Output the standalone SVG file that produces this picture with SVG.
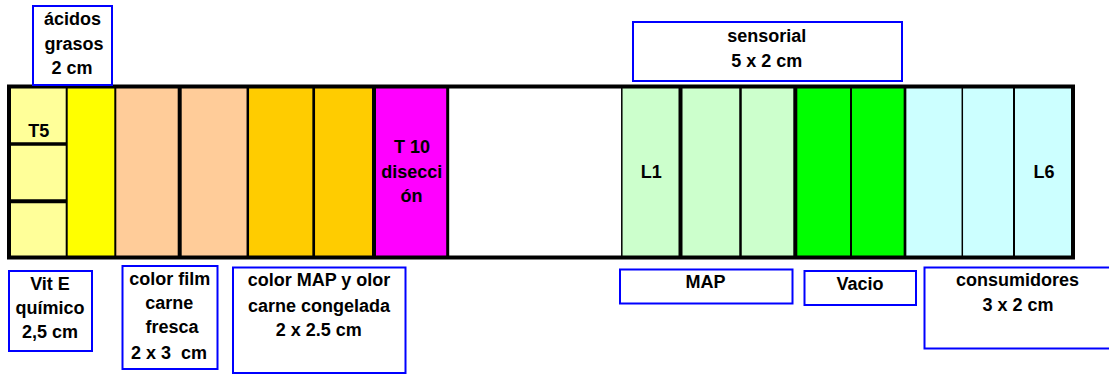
<svg xmlns="http://www.w3.org/2000/svg" width="1109" height="374" viewBox="0 0 1109 374">
<style>
text{font-family:"Liberation Sans",Arial,sans-serif;font-weight:bold;font-size:18px;fill:#000;text-anchor:middle}
.lbl{fill:#fff;stroke:#0000ff;stroke-width:2}
.div{stroke:#000}
</style>
<rect width="1109" height="374" fill="#fff"/>
<g id="bar">
<rect x="9" y="86" width="58" height="172" fill="#ffff99"/>
<rect x="67" y="86" width="48" height="172" fill="#ffff00"/>
<rect x="115" y="86" width="133" height="172" fill="#ffcc99"/>
<rect x="248" y="86" width="126" height="172" fill="#ffcc00"/>
<rect x="374" y="86" width="74" height="172" fill="#ff00ff"/>
<rect x="448" y="86" width="174" height="172" fill="#ffffff"/>
<rect x="622" y="86" width="173" height="172" fill="#ccffcc"/>
<rect x="795" y="86" width="110" height="172" fill="#00ff00"/>
<rect x="905" y="86" width="168" height="172" fill="#ccffff"/>
<g class="div">
<line x1="66.7" y1="86" x2="66.7" y2="258" stroke-width="2"/>
<line x1="115.3" y1="86" x2="115.3" y2="258" stroke-width="2"/>
<line x1="179.7" y1="86" x2="179.7" y2="258" stroke-width="4"/>
<line x1="247.8" y1="86" x2="247.8" y2="258" stroke-width="2.5"/>
<line x1="313.7" y1="86" x2="313.7" y2="258" stroke-width="2.7"/>
<line x1="374" y1="86" x2="374" y2="258" stroke-width="4"/>
<line x1="447.7" y1="86" x2="447.7" y2="258" stroke-width="3"/>
<line x1="621.8" y1="86" x2="621.8" y2="258" stroke-width="1.5"/>
<line x1="680.5" y1="86" x2="680.5" y2="258" stroke-width="4"/>
<line x1="740.5" y1="86" x2="740.5" y2="258" stroke-width="2.5"/>
<line x1="795.3" y1="86" x2="795.3" y2="258" stroke-width="4"/>
<line x1="851" y1="86" x2="851" y2="258" stroke-width="2"/>
<line x1="905" y1="86" x2="905" y2="258" stroke-width="2.7"/>
<line x1="962.3" y1="86" x2="962.3" y2="258" stroke-width="1.5"/>
<line x1="1014" y1="86" x2="1014" y2="258" stroke-width="2"/>
<line x1="9" y1="144" x2="66.7" y2="144" stroke-width="3.3"/>
<line x1="9" y1="201.3" x2="66.7" y2="201.3" stroke-width="4"/>
</g>
<rect x="9" y="86.5" width="1064" height="171" fill="none" stroke="#000" stroke-width="4"/>
</g>
<g id="cell-T5"><text x="38.8" y="136.7">T5</text></g>
<g id="cell-T10"><text x="412" y="153.3">T 10</text><text x="411.7" y="178.3">disecci</text><text x="411.5" y="202.3">ón</text></g>
<g id="cell-L1"><text x="651.3" y="178.3">L1</text></g>
<g id="cell-L6"><text x="1044" y="178.3">L6</text></g>
<g id="acidos">
<rect class="lbl" x="33" y="6" width="79" height="79"/>
<text x="72.5" y="25">ácidos</text><text x="74" y="50">grasos</text><text x="72" y="74">2 cm</text>
</g>
<g id="sensorial">
<rect class="lbl" x="633" y="22" width="269" height="59"/>
<text x="766.7" y="41.7">sensorial</text><text x="766.7" y="66.7">5 x 2 cm</text>
</g>
<g id="vitE">
<rect class="lbl" x="9" y="271" width="83" height="80"/>
<text x="50" y="290">Vit E</text><text x="50" y="314.3">químico</text><text x="50" y="338.3">2,5 cm</text>
</g>
<g id="colorfilm">
<rect class="lbl" x="122.5" y="266" width="95" height="103"/>
<text x="169.7" y="285">color film</text><text x="169.3" y="309.3">carne</text><text x="172" y="333.3">fresca</text><text x="169" y="359" xml:space="preserve">2 x 3  cm</text>
</g>
<g id="colormap">
<rect class="lbl" x="233" y="267.5" width="172.5" height="105.5"/>
<text x="319" y="285.7">color MAP y olor</text><text x="319" y="311.7">carne congelada</text><text x="318.7" y="335.7">2 x 2.5 cm</text>
</g>
<g id="map">
<rect class="lbl" x="620" y="269.5" width="172.5" height="34"/>
<text x="705.5" y="288.3">MAP</text>
</g>
<g id="vacio">
<rect class="lbl" x="804.5" y="271" width="111.5" height="34"/>
<text x="860" y="290">Vacio</text>
</g>
<g id="consumidores">
<rect class="lbl" x="924.5" y="267.5" width="190" height="81"/>
<text x="1017.5" y="286">consumidores</text><text x="1018" y="311">3 x 2 cm</text>
</g>
<g id="connectors"/>
</svg>
